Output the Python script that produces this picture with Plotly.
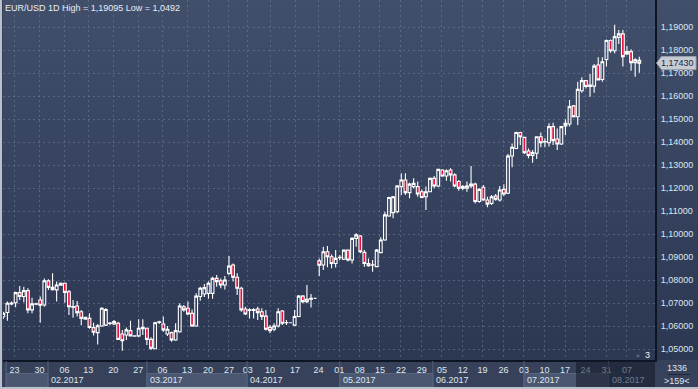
import base64
import plotly.graph_objects as go

# ---------------- data (EUR/USD daily candles) ----------------
opens = [1.0640, 1.0659, 1.0696, 1.0701, 1.0745, 1.0728, 1.0754, 1.0670, 1.0695, 1.0713,
         1.0691, 1.0796, 1.0768, 1.0757, 1.0777, 1.0786, 1.0749, 1.0682, 1.0687, 1.0662,
         1.0630, 1.0633, 1.0593, 1.0571, 1.0600, 1.0604, 1.0611, 1.0609, 1.0612, 1.0565,
         1.0561, 1.0580, 1.0557, 1.0557, 1.0594, 1.0590, 1.0542, 1.0501, 1.0615, 1.0609,
         1.0565, 1.0571, 1.0539, 1.0575, 1.0684, 1.0677, 1.0655, 1.0600, 1.0728, 1.0739,
         1.0742, 1.0742, 1.0807, 1.0797, 1.0778, 1.0829, 1.0865, 1.0812, 1.0764, 1.0674,
         1.0670, 1.0668, 1.0674, 1.0662, 1.0643, 1.0594, 1.0586, 1.0600, 1.0665, 1.0614,
         1.0614, 1.0604, 1.0641, 1.0730, 1.0706, 1.0717, 1.0720, 1.0883, 1.0865, 1.0923,
         1.0901, 1.0872, 1.0897, 1.0890, 1.0930, 1.0887, 1.0981, 1.0991, 1.0920, 1.0872,
         1.0864, 1.0858, 1.0919, 1.0974, 1.1078, 1.1093, 1.1097, 1.1206, 1.1235, 1.1180,
         1.1206, 1.1206, 1.1184, 1.1162, 1.1184, 1.1242, 1.1209, 1.1278, 1.1252, 1.1278,
         1.1257, 1.1228, 1.1199, 1.1199, 1.1209, 1.1217, 1.1141, 1.1203, 1.1148, 1.1133,
         1.1165, 1.1148, 1.1194, 1.1177, 1.1339, 1.1372, 1.1441, 1.1420, 1.1361, 1.1341,
         1.1351, 1.1423, 1.1400, 1.1397, 1.1467, 1.1413, 1.1391, 1.1470, 1.1478, 1.1557,
         1.1510, 1.1623, 1.1667, 1.1641, 1.1643, 1.1735, 1.1672, 1.1759, 1.1841, 1.1797,
         1.1855, 1.1870, 1.1783, 1.1793, 1.1745, 1.1755]
highs = [1.0662, 1.0706, 1.0706, 1.0749, 1.0774, 1.0771, 1.0764, 1.0723, 1.0701, 1.0728,
         1.0807, 1.0803, 1.0829, 1.0793, 1.0789, 1.0789, 1.0757, 1.0713, 1.0709, 1.0670,
         1.0640, 1.0655, 1.0614, 1.0609, 1.0681, 1.0677, 1.0617, 1.0626, 1.0619, 1.0583,
         1.0594, 1.0623, 1.0559, 1.0629, 1.0629, 1.0594, 1.0551, 1.0619, 1.0623, 1.0641,
         1.0600, 1.0575, 1.0612, 1.0699, 1.0691, 1.0706, 1.0672, 1.0742, 1.0771, 1.0783,
         1.0793, 1.0814, 1.0822, 1.0807, 1.0817, 1.0904, 1.0872, 1.0829, 1.0771, 1.0684,
         1.0677, 1.0677, 1.0684, 1.0677, 1.0670, 1.0604, 1.0612, 1.0677, 1.0670, 1.0626,
         1.0616, 1.0670, 1.0735, 1.0735, 1.0778, 1.0739, 1.0721, 1.0894, 1.0945, 1.0948,
         1.0911, 1.0930, 1.0909, 1.0932, 1.0933, 1.0986, 1.1003, 1.0996, 1.0930, 1.0894,
         1.0887, 1.0935, 1.0986, 1.1097, 1.1162, 1.1165, 1.1213, 1.1264, 1.1264, 1.1223,
         1.1242, 1.1228, 1.1194, 1.1206, 1.1246, 1.1252, 1.1283, 1.1281, 1.1281, 1.1286,
         1.1264, 1.1235, 1.1213, 1.1228, 1.1296, 1.1223, 1.1199, 1.1213, 1.1162, 1.1170,
         1.1174, 1.1209, 1.1216, 1.1348, 1.1394, 1.1445, 1.1445, 1.1423, 1.1372, 1.1365,
         1.1425, 1.1441, 1.1416, 1.1481, 1.1484, 1.1459, 1.1470, 1.1499, 1.1583, 1.1561,
         1.1662, 1.1681, 1.1670, 1.1696, 1.1739, 1.1768, 1.1768, 1.1846, 1.1846, 1.19095,
         1.1887, 1.1887, 1.1817, 1.1803, 1.1764, 1.1771]
lows = [1.0630, 1.0623, 1.0690, 1.0681, 1.0713, 1.0703, 1.0655, 1.0655, 1.0690, 1.0614,
        1.0684, 1.0757, 1.0754, 1.0706, 1.0775, 1.0701, 1.0648, 1.0636, 1.0641, 1.0603,
        1.0628, 1.0588, 1.0559, 1.0520, 1.0597, 1.0600, 1.0603, 1.0604, 1.0539, 1.0492,
        1.0539, 1.0554, 1.0554, 1.0551, 1.0561, 1.0517, 1.0496, 1.0499, 1.0609, 1.0575,
        1.0557, 1.0532, 1.0536, 1.0571, 1.0662, 1.0648, 1.0597, 1.0597, 1.0710, 1.0726,
        1.0719, 1.0719, 1.0771, 1.0764, 1.0759, 1.0822, 1.0793, 1.0735, 1.0662, 1.0648,
        1.0633, 1.0633, 1.0626, 1.0626, 1.0580, 1.0568, 1.0577, 1.0594, 1.0604, 1.0604,
        1.0612, 1.0600, 1.0638, 1.0699, 1.0699, 1.0680, 1.0719, 1.0817, 1.0843, 1.0855,
        1.0851, 1.0854, 1.0887, 1.0887, 1.0880, 1.0872, 1.0945, 1.0916, 1.0858, 1.0858,
        1.0836, 1.0855, 1.0916, 1.0971, 1.1075, 1.1068, 1.1090, 1.1170, 1.1170, 1.1155,
        1.1199, 1.1162, 1.1155, 1.1104, 1.1181, 1.1199, 1.1203, 1.1249, 1.1232, 1.1228,
        1.1203, 1.1188, 1.1191, 1.1184, 1.1199, 1.1133, 1.1136, 1.1145, 1.1116, 1.1126,
        1.1145, 1.1141, 1.1165, 1.1174, 1.1290, 1.1368, 1.1387, 1.1348, 1.1329, 1.1310,
        1.1326, 1.1377, 1.1377, 1.1380, 1.1387, 1.1365, 1.1387, 1.1430, 1.1467, 1.1507,
        1.1474, 1.1614, 1.1633, 1.1597, 1.1614, 1.1667, 1.1662, 1.1728, 1.1788, 1.1786,
        1.1826, 1.1728, 1.1778, 1.1710, 1.1684, 1.1701]
closes = [1.0655, 1.0699, 1.0700, 1.0745, 1.0728, 1.0754, 1.0670, 1.0696, 1.0697, 1.0690,
          1.0797, 1.0768, 1.0758, 1.0778, 1.0786, 1.0746, 1.0684, 1.0685, 1.0658, 1.0633,
          1.0638, 1.0594, 1.0573, 1.0601, 1.0677, 1.0672, 1.0613, 1.0619, 1.0542, 1.0536,
          1.0583, 1.0557, 1.0556, 1.0590, 1.0588, 1.0542, 1.0503, 1.0614, 1.0618, 1.0583,
          1.0586, 1.0539, 1.0580, 1.0687, 1.0670, 1.0652, 1.0600, 1.0730, 1.0764, 1.0767,
          1.0786, 1.0807, 1.0793, 1.0778, 1.0800, 1.0861, 1.0812, 1.0764, 1.0670, 1.0652,
          1.0668, 1.0671, 1.0658, 1.0641, 1.0586, 1.0580, 1.0600, 1.0662, 1.0612, 1.0615,
          1.0614, 1.0641, 1.0730, 1.0706, 1.0716, 1.0720, 1.0720, 1.0864, 1.0923, 1.0901,
          1.0872, 1.0894, 1.0899, 1.0930, 1.0887, 1.0981, 1.0996, 1.0923, 1.0872, 1.0862,
          1.0866, 1.0930, 1.0974, 1.1083, 1.1159, 1.1162, 1.1209, 1.1235, 1.1180, 1.1217,
          1.1220, 1.1174, 1.1159, 1.1184, 1.1242, 1.1209, 1.1281, 1.1252, 1.1275, 1.1257,
          1.1209, 1.1199, 1.1206, 1.1209, 1.1217, 1.1141, 1.1194, 1.1148, 1.1130, 1.1162,
          1.1151, 1.1191, 1.1174, 1.1339, 1.1377, 1.1441, 1.1423, 1.1354, 1.1341, 1.1354,
          1.1423, 1.1397, 1.1402, 1.1467, 1.1406, 1.1391, 1.1467, 1.1481, 1.1554, 1.1510,
          1.1629, 1.1667, 1.1641, 1.1648, 1.1730, 1.1670, 1.1749, 1.1841, 1.1797, 1.1858,
          1.1870, 1.1771, 1.1793, 1.1745, 1.1757, 1.1743]
bar_index = list(range(len(opens)))

week_ticks = [2.7, 8.8, 14.9, 20.7, 26.8, 32.9, 38.8, 44.8, 49.9, 55.0, 59.6, 65.0, 71.1, 76.8,
              81.9, 86.9, 91.8, 96.9, 102.0, 106.9, 112.0, 116.8, 121.9, 126.9, 131.9, 136.9,
              141.9, 147.0, 152.0]
week_labels = ["23", "30", "06", "13", "20", "27", "06", "13", "20", "27", "03", "10", "17", "24",
               "01", "08", "15", "22", "29", "05", "12", "19", "26", "03", "10", "17", "24", "31", "07"]
month_edges = [0.7, 10.9, 35.0, 59.4, 82.0, 104.7, 126.9, 147.5]
month_labels = ["", "02.2017", "03.2017", "04.2017", "05.2017", "06.2017", "07.2017", "08.2017"]
price_ticks = [1.05, 1.06, 1.07, 1.08, 1.09, 1.10, 1.11, 1.12, 1.13, 1.14, 1.15, 1.16, 1.17, 1.18, 1.19]
title_text = "EUR/USD 1D High = 1,19095 Low = 1,0492"
bars_text = "1336"
visible_text = ">159<"

# ---------------- geometry helpers ----------------
W, H = 698, 389
ML, MR, MT, MB = 3, 43, 0, 29
PW, PH = W - ML - MR, H - MT - MB
def px(x):   # pixel x -> paper x
    return (x - ML) / PW
def py(y):   # pixel y -> paper y
    return (H - MB - y) / PH

FONT = "Liberation Sans, Arial, sans-serif"
LABEL = "#dfe6f0"

fig = go.Figure(go.Candlestick(
    x=bar_index, open=opens, high=highs, low=lows, close=closes,
    increasing=dict(line=dict(color="#ffffff", width=1.1), fillcolor="rgba(0,0,0,0)"),
    decreasing=dict(line=dict(color="#ffffff", width=1.1), fillcolor="#e5103e"),
    whiskerwidth=0, hoverinfo="skip", showlegend=False,
))

# gradient background
svg = ('<svg xmlns="http://www.w3.org/2000/svg" width="10" height="100" viewBox="0 0 10 100" '
       'preserveAspectRatio="none"><defs><linearGradient id="g" x1="0" y1="0" x2="0" y2="1">'
       '<stop offset="0" stop-color="#414f6b"/><stop offset="1" stop-color="#2c3752"/>'
       '</linearGradient></defs><rect width="10" height="100" fill="url(#g)"/></svg>')
uri = "data:image/svg+xml;base64," + base64.b64encode(svg.encode()).decode()

shapes = []
# month boxes in lower band row (alternating lighter)
for k in range(len(month_edges)):
    x0 = month_edges[k]
    x1 = month_edges[k + 1] if k + 1 < len(month_edges) else 158.8
    if k % 2 == 0:
        shapes.append(dict(type="rect", xref="x", yref="paper", x0=x0, x1=x1,
                           y0=py(387), y1=py(373.5), fillcolor="#4b5771",
                           line=dict(color="#58657f", width=1), layer="below"))
    shapes.append(dict(type="line", xref="x", yref="paper", x0=x0, x1=x0,
                       y0=py(389), y1=py(361), line=dict(color="#56627c", width=1)))
# dimmed region at right of time band
shapes.append(dict(type="rect", xref="paper", yref="paper", x0=px(576), x1=1.0,
                   y0=py(387), y1=py(361), fillcolor="rgba(20,26,42,0.55)",
                   line=dict(width=0), layer="above"))
# outer light frame (left, bottom)
shapes.append(dict(type="rect", xref="paper", yref="paper", x0=px(0), x1=px(2),
                   y0=py(389), y1=1, fillcolor="#b9c1cc", line=dict(width=0)))
shapes.append(dict(type="rect", xref="paper", yref="paper", x0=px(0), x1=px(698),
                   y0=py(389), y1=py(387), fillcolor="#b9c1cc", line=dict(width=0)))
# separator between bar count and visible count
shapes.append(dict(type="line", xref="paper", yref="paper", x0=px(668), x1=px(690),
                   y0=py(374.5), y1=py(374.5), line=dict(color="#1e2638", width=1)))
# last price marker
last = closes[-1]
hh = 6.5 * (price_ticks[-1] - price_ticks[0]) / 322
shapes.append(dict(type="path", xref="paper", yref="y",
                   path=(f"M {px(656.5)},{last} L {px(661.5)},{last + hh} L {px(696)},{last + hh} "
                         f"L {px(696)},{last - hh} L {px(661.5)},{last - hh} Z"),
                   fillcolor="#c6cbd4", line=dict(color="#9aa3b1", width=1), layer="above"))

annotations = [
    dict(xref="paper", yref="paper", x=px(3), y=1, xanchor="left", yanchor="top", yshift=-1,
         text=title_text, showarrow=False, font=dict(family=FONT, size=9, color="#e8edf4")),
    dict(xref="paper", yref="y", x=px(678), y=last, xanchor="center", yanchor="middle",
         text=f"{last:.5f}".replace(".", ","), showarrow=False,
         font=dict(family=FONT, size=9, color="#1c2942")),
    dict(xref="paper", yref="paper", x=px(677), y=py(368), xanchor="center", yanchor="middle",
         text=bars_text, showarrow=False, font=dict(family=FONT, size=9, color=LABEL)),
    dict(xref="paper", yref="paper", x=px(677), y=py(381), xanchor="center", yanchor="middle",
         text=visible_text, showarrow=False, font=dict(family=FONT, size=9, color=LABEL)),
    dict(xref="paper", yref="paper", x=px(638), y=py(355), xanchor="center", yanchor="middle",
         text="▲", showarrow=False, font=dict(family=FONT, size=6, color="#5c6882")),
    dict(xref="paper", yref="paper", x=px(647), y=py(355), xanchor="center", yanchor="middle",
         text="3", showarrow=False, font=dict(family=FONT, size=9, color="#f0f3f8")),
]
for k in range(1, len(month_edges)):
    dim = month_edges[k] > 140
    annotations.append(dict(xref="x", yref="paper", x=month_edges[k] + 0.3, y=py(380),
                            xanchor="left", yanchor="middle", text=month_labels[k],
                            showarrow=False,
                            font=dict(family=FONT, size=9,
                                      color="#717d94" if dim else LABEL)))

fig.update_layout(
    width=W, height=H, autosize=False,
    margin=dict(l=ML, r=MR, t=MT, b=MB, pad=0),
    paper_bgcolor="#37425a", plot_bgcolor="rgba(0,0,0,0)",
    separators=",.",
    showlegend=False,
    boxgap=0.1, boxgroupgap=0.25,
    images=[dict(source=uri, xref="paper", yref="paper", x=0, y=1, sizex=px(698), sizey=1,
                 xanchor="left", yanchor="top", sizing="stretch", layer="below")],
    xaxis=dict(range=[-0.073, 158.83], tickmode="array", tickvals=week_ticks, ticktext=week_labels,
               showgrid=True, gridcolor="rgba(125,140,170,0.45)", griddash="2px,3px", gridwidth=1,
               zeroline=False, showline=True, linecolor="#0d1424", linewidth=2,
               ticks="", tickfont=dict(family=FONT, size=9, color=LABEL),
               rangeslider=dict(visible=False), fixedrange=True),
    yaxis=dict(range=[1.045217, 1.201739], side="right", tickmode="array", tickvals=price_ticks,
               tickformat=".5f", showgrid=True, gridcolor="rgba(125,140,170,0.45)",
               griddash="2px,3px", gridwidth=1, zeroline=False, showline=True,
               linecolor="#0d1424", linewidth=2, ticks="", ticklabelstandoff=2,
               tickfont=dict(family=FONT, size=9, color=LABEL), fixedrange=True),
    shapes=shapes,
    annotations=annotations,
)

fig.write_html("out.html", config={"displayModeBar": False},
               post_script="document.body.style.margin='0';document.body.style.overflow='hidden';")
